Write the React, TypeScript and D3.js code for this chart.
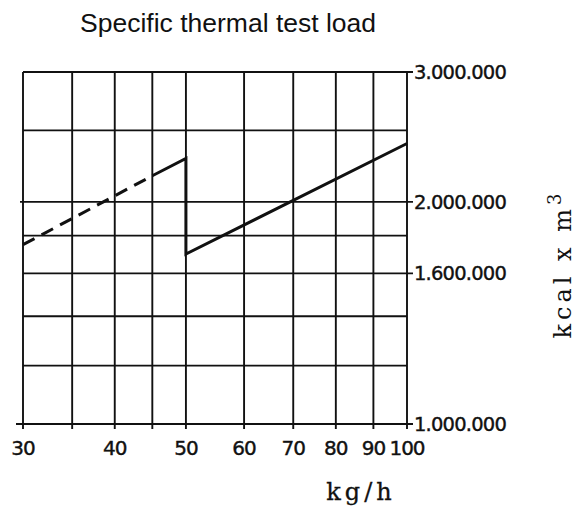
import React from "react";
import * as d3 from "d3";

// flow rate (kg/h) on x, thermal load (kcal x m3) on y, both log scale
const xGrid = [30, 35, 40, 45, 50, 60, 70, 80, 90, 100];
const xLabels = [30, 40, 50, 60, 70, 80, 90, 100];
const yGrid = [1000000, 1200000, 1400000, 1600000, 1800000, 2000000, 2500000, 3000000];
const yLabels = [1000000, 1600000, 2000000, 3000000];

// lower capacity range (dashed part, then solid up to the switch at 50 kg/h)
const dashedPart: [number, number][] = [
  [30, 1750000],
  [45, 2170000],
];
const solidPart: [number, number][] = [
  [45, 2170000],
  [50, 2290000],
  [50, 1700000],
  [100, 2400000],
];

const W = 586;
const H = 515;

const fmt = (v: number) => d3.format(",")(v).replace(/,/g, ".");

export default function App() {
  const x = d3.scaleLog().domain([30, 100]).range([23, 407]);
  const y = d3.scaleLog().domain([1000000, 3000000]).range([424, 72]);

  const line = d3
    .line<[number, number]>()
    .x((d) => x(d[0]))
    .y((d) => y(d[1]));

  const numFont = "'DejaVu Sans', sans-serif";
  const monoFont = "'DejaVu Serif', serif";

  return (
    <svg
      width={W}
      height={H}
      style={{ position: "absolute", left: 0, top: 0, background: "#fff" }}
    >
      <text
        x={80}
        y={32}
        fontFamily="'Liberation Sans', Arial, sans-serif"
        fontSize={26.5}
        fill="#111"
      >
        Specific thermal test load
      </text>

      {/* grid */}
      <g stroke="#111" strokeWidth={1.9}>
        {xGrid.map((v) => (
          <line key={"x" + v} x1={x(v)} x2={x(v)} y1={y(3000000)} y2={y(1000000) + 5} />
        ))}
        {yGrid.map((v) => (
          <line
            key={"y" + v}
            x1={v === 1000000 ? 16 : v === 2000000 ? 20 : x(30)}
            x2={yLabels.includes(v) ? x(100) + 6 : x(100)}
            y1={y(v)}
            y2={y(v)}
          />
        ))}
      </g>

      {/* curve */}
      <path
        d={line(dashedPart) || ""}
        fill="none"
        stroke="#111"
        strokeWidth={3}
        strokeDasharray="13 8"
      />
      <path
        d={line(solidPart) || ""}
        fill="none"
        stroke="#111"
        strokeWidth={3}
        strokeLinejoin="miter"
      />

      {/* y labels */}
      {yLabels.map((v) => (
        <text
          key={"yl" + v}
          x={x(100) + 7}
          y={y(v)}
          dy="0.36em"
          fontFamily={numFont}
          fontSize={19.5}
          letterSpacing={-0.8}
          stroke="#111"
          strokeWidth={0.4}
          fill="#111"
        >
          {fmt(v)}
        </text>
      ))}

      {/* x labels */}
      {xLabels.map((v) => (
        <text
          key={"xl" + v}
          x={x(v)}
          y={455}
          textAnchor="middle"
          fontFamily={numFont}
          fontSize={20}
          letterSpacing={-1}
          stroke="#111"
          strokeWidth={0.4}
          fill="#111"
        >
          {v}
        </text>
      ))}

      <text
        x={361}
        y={500}
        textAnchor="middle"
        fontFamily={monoFont}
        fontSize={24}
        letterSpacing={4}
        stroke="#111"
        strokeWidth={0.3}
        fill="#111"
      >
        kg/h
      </text>

      <text
        transform={`translate(571, 264) rotate(-90)`}
        textAnchor="middle"
        fontFamily={monoFont}
        fontSize={24}
        letterSpacing={4}
        fill="#111"
      >
        kcal x m<tspan dy={-10} fontSize={18}>3</tspan>
      </text>
    </svg>
  );
}
